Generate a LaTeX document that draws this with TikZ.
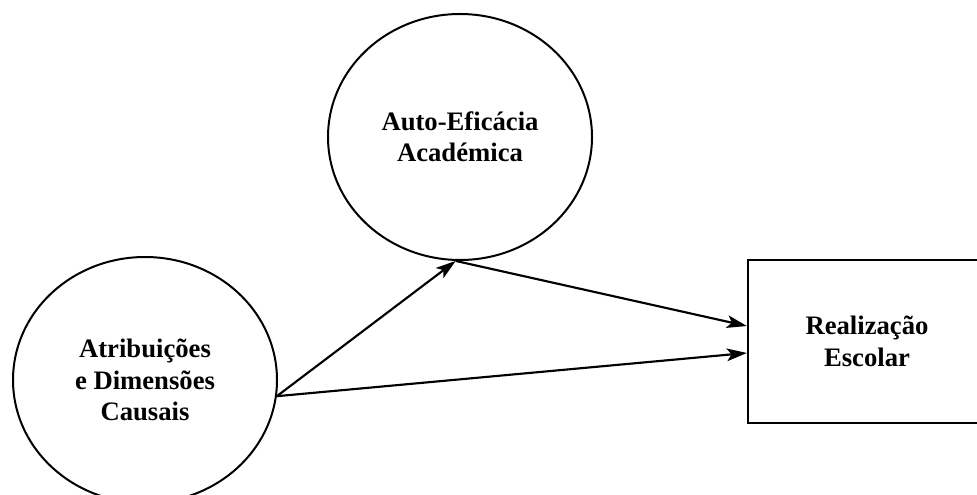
\documentclass[tikz,border=0pt]{standalone}
\usepackage{fontspec}
\setmainfont{Liberation Serif}
\usetikzlibrary{shapes.geometric,arrows.meta}
\begin{document}
\begin{tikzpicture}[x=0.75pt,y=-0.75pt,
  lbl/.style={font=\fontsize{20pt}{23.6pt}\selectfont\bfseries, align=center},
  latent/.style={draw, line width=1.5pt, ellipse, inner sep=0pt,
    minimum width=198pt, minimum height=184.5pt, lbl},
  observed/.style={draw, line width=1.7pt, rectangle, inner sep=0pt,
    minimum width=178.5pt, minimum height=122.25pt, lbl},
  conn/.style={line width=1.6pt, -{Stealth[length=15pt,width=9.5pt,inset=3.5pt]}}
]
\useasboundingbox (0,0) rectangle (977,495);
\clip (0,0) rectangle (977,495);
\node[latent] (c1) at (145,380) {Atribuições\\e Dimensões\\Causais};
\node[latent] (c2) at (460,137) {Auto-Eficácia\\Académica};
\node[observed] (r) at (867,341.5) {Realização\\Escolar};
\draw[conn] (c1.-7) -- (c2.-92);
\draw[conn] (c2.-92) -- ([yshift=11.6pt]r.west);
\draw[conn] (c1.-7) -- ([yshift=-8.6pt]r.west);
\end{tikzpicture}
\end{document}
